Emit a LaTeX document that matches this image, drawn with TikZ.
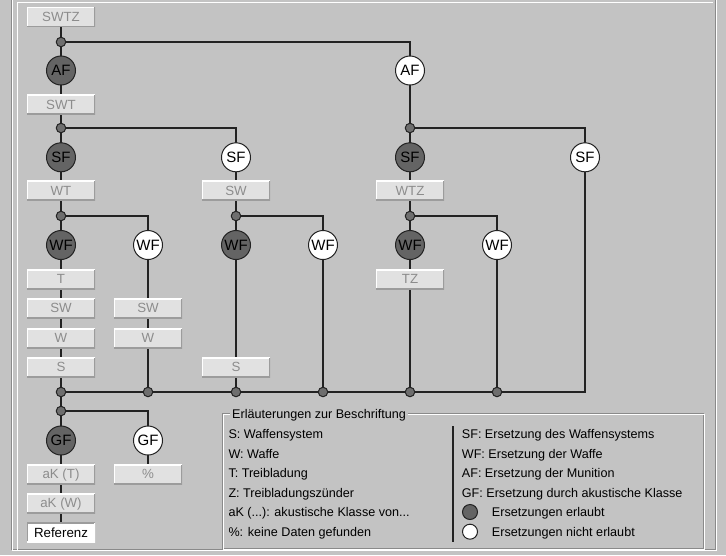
\documentclass[tikz,border=0pt]{standalone}
\usepackage{fontspec}
\setmainfont{Liberation Sans}
\usetikzlibrary{calc}
\pgfdeclarelayer{bglayer}
\pgfdeclarelayer{wirelayer}
\pgfsetlayers{bglayer,wirelayer,main}
\definecolor{bg}{HTML}{C3C3C3}
\definecolor{boxfill}{HTML}{E1E1E1}
\definecolor{boxtext}{HTML}{8C8C8C}
\definecolor{darkfill}{HTML}{646464}
\definecolor{junc}{HTML}{6E6E6E}
\definecolor{wirec}{HTML}{222222}
\definecolor{edge}{HTML}{8A8A8A}
\definecolor{boxedge}{HTML}{9C9C9C}
\begin{document}
\begin{tikzpicture}[x=1pt,y=-1pt,
 wire/.style={draw=wirec,line width=1.7pt},
 lbox/.style={rectangle,minimum width=68pt,minimum height=19.5pt,inner sep=0pt,
   fill=boxfill,text=boxtext,text height=9.3pt,text depth=0pt,
   font=\fontsize{13.3}{14}\selectfont,
   path picture={
     \draw[white,line width=2pt] (path picture bounding box.south west) -- (path picture bounding box.north west) -- (path picture bounding box.north east);
     \draw[boxedge,line width=2pt] (path picture bounding box.north east) -- (path picture bounding box.south east) -- (path picture bounding box.south west);}},
 refbox/.style={lbox,fill=white,text=black,
   path picture={
     \draw[boxedge,line width=2pt] (path picture bounding box.south west) -- (path picture bounding box.north west) -- (path picture bounding box.north east);
     \draw[white,line width=2pt] (path picture bounding box.north east) -- (path picture bounding box.south east) -- (path picture bounding box.south west);}},
 dcirc/.style={circle,minimum size=29pt,inner sep=0pt,draw=wirec,line width=1pt,fill=darkfill,
   text height=10.8pt,text depth=0pt,font=\fontsize{15}{16}\selectfont},
 wcirc/.style={dcirc,fill=white},
 jn/.style={circle,minimum size=9.5pt,inner sep=0pt,draw=wirec,line width=1pt,fill=junc},
 legtext/.style={anchor=base west,inner sep=0pt,font=\fontsize{12.6}{14}\selectfont},
 legcirc/.style={circle,minimum size=15pt,inner sep=0pt,draw=wirec,line width=1pt}
]
\useasboundingbox (0,0) rectangle (726,555);
\begin{pgfonlayer}{bglayer}
\fill[bg] (0,0) rectangle (726,555);
% outer frame
\draw[edge,line width=1pt] (11.5,-2) -- (11.5,549.5) -- (715.5,549.5) -- (715.5,-2);
\draw[white,line width=1pt] (12.5,-2) -- (12.5,550.5) -- (716.5,550.5) -- (716.5,-2);
\draw[white,line width=1pt] (17.5,550) -- (17.5,2.5) -- (713,2.5);
% legend frame
\draw[edge,line width=1pt] (222.5,413.5) rectangle (703.5,548);
\draw[white,line width=1pt] (223.5,414.5) rectangle (704.5,549);
\end{pgfonlayer}

% column x positions: 61, 148, 236, 323, 410, 497, 585
\node[lbox] (SWTZ) at (61,17) {SWTZ};
\node[jn] (j0) at (61,42) {};
\node[dcirc] (AF1) at (61,70.5) {AF};
\node[wcirc] (AF2) at (410,70.5) {AF};
\node[lbox] (SWT) at (61,104.5) {SWT};
\node[jn] (j1a) at (61,128) {};
\node[jn] (j1b) at (410,128) {};
\node[dcirc] (SF1) at (61,157.3) {SF};
\node[wcirc] (SF2) at (236,157.3) {SF};
\node[dcirc] (SF3) at (410,157.3) {SF};
\node[wcirc] (SF4) at (585,157.3) {SF};
\node[lbox] (WT) at (61,190.7) {WT};
\node[lbox] (SWc) at (236,190.7) {SW};
\node[lbox] (WTZ) at (410,190.7) {WTZ};
\node[jn] (j2a) at (61,216) {};
\node[jn] (j2b) at (236,216) {};
\node[jn] (j2c) at (410,216) {};
\node[dcirc] (WF1) at (61,245) {WF};
\node[wcirc] (WF2) at (148,245) {WF};
\node[dcirc] (WF3) at (236,245) {WF};
\node[wcirc] (WF4) at (323,245) {WF};
\node[dcirc] (WF5) at (410,245) {WF};
\node[wcirc] (WF6) at (497,245) {WF};
\node[lbox] (T) at (61,279.3) {T};
\node[lbox] (TZ) at (410,279.3) {TZ};
\node[lbox] (SWa) at (61,308.3) {SW};
\node[lbox] (SWb) at (148,308.3) {SW};
\node[lbox] (Wa) at (61,338.3) {W};
\node[lbox] (Wb) at (148,338.3) {W};
\node[lbox] (Sa) at (61,367.3) {S};
\node[lbox] (Sb) at (236,367.3) {S};
\node[jn] (b1) at (61,392) {};
\node[jn] (b2) at (148,392) {};
\node[jn] (b3) at (236,392) {};
\node[jn] (b4) at (323,392) {};
\node[jn] (b5) at (410,392) {};
\node[jn] (b6) at (497,392) {};
\coordinate (bend) at (585,392);
\node[jn] (j3) at (61,411) {};
\node[dcirc] (GF1) at (61,440.5) {GF};
\node[wcirc] (GF2) at (148,440.5) {GF};
\node[lbox] (aKT) at (61,474.3) {aK (T)};
\node[lbox] (pct) at (148,474.3) {\%};
\node[lbox] (aKW) at (61,503.3) {aK (W)};
\node[refbox] (Ref) at (61,532.7) {Referenz};

\begin{pgfonlayer}{wirelayer}
\draw[wire] (SWTZ.center) -- (j0.center) -- (AF1.center) -- (SWT.center) -- (j1a.center) -- (SF1.center) -- (WT.center) -- (j2a.center) -- (WF1.center) -- (T.center) -- (SWa.center) -- (Wa.center) -- (Sa.center) -- (b1.center) -- (j3.center) -- (GF1.center) -- (aKT.center) -- (aKW.center) -- (Ref.center);
\draw[wire] (j0.center) -| (AF2.center);
\draw[wire] (AF2.center) -- (j1b.center) -- (SF3.center) -- (WTZ.center) -- (j2c.center) -- (WF5.center) -- (TZ.center) -- (b5.center);
\draw[wire] (j1a.center) -| (SF2.center);
\draw[wire] (SF2.center) -- (SWc.center) -- (j2b.center) -- (WF3.center) -- (Sb.center) -- (b3.center);
\draw[wire] (j1b.center) -| (SF4.center);
\draw[wire] (SF4.center) -- (bend) -- (b1.center);
\draw[wire] (j2a.center) -| (WF2.center);
\draw[wire] (WF2.center) -- (SWb.center) -- (Wb.center) -- (b2.center);
\draw[wire] (j2b.center) -| (WF4.center);
\draw[wire] (WF4.center) -- (b4.center);
\draw[wire] (j2c.center) -| (WF6.center);
\draw[wire] (WF6.center) -- (b6.center);
\draw[wire] (j3.center) -| (GF2.center);
\draw[wire] (GF2.center) -- (pct.center);
\end{pgfonlayer}

% legend
\node[legtext,fill=bg,inner xsep=2pt,inner ysep=1pt] (title) at (230,418.5) {Erläuterungen zur Beschriftung};
\node[legtext] (l1) at (228.3,438.8) {S: Waffensystem};
\node[legtext] (l2) at (228.3,458.2) {W: Waffe};
\node[legtext] (l3) at (228.3,477.8) {T: Treibladung};
\node[legtext] (l4) at (228.3,497.2) {Z: Treibladungszünder};
\node[legtext] (l5) at (228.3,516.5) {aK (...): akustische Klasse von...};
\node[legtext] (l6) at (228.3,536.2) {\%: keine Daten gefunden};
\coordinate (sepTop) at (453,426);
\coordinate (sepBot) at (453,542);
\draw[wire,line width=1.2pt] (sepTop) -- (sepBot);
\node[legtext] (r1) at (461.7,438.8) {SF: Ersetzung des Waffensystems};
\node[legtext] (r2) at (461.7,458.2) {WF: Ersetzung der Waffe};
\node[legtext] (r3) at (461.7,477.8) {AF: Ersetzung der Munition};
\node[legtext] (r4) at (461.7,497.2) {GF: Ersetzung durch akustische Klasse};
\node[legcirc,fill=darkfill] (c1) at (470,512) {};
\node[legcirc,fill=white] (c2) at (470,531.7) {};
\node[legtext] (r5) at (491.7,516.5) {Ersetzungen erlaubt};
\node[legtext] (r6) at (491.7,536.2) {Ersetzungen nicht erlaubt};
\end{tikzpicture}
\end{document}
